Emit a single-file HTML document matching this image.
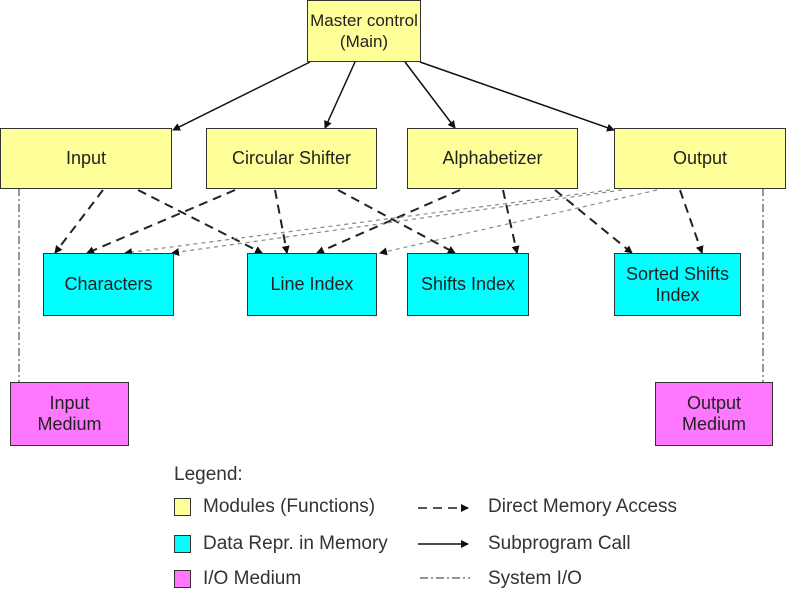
<!DOCTYPE html>
<html><head><style>
body{margin:0;width:786px;height:590px;background:#fff;overflow:hidden;position:relative;font-family:"Liberation Sans",sans-serif;}
.b{position:absolute;border:1px solid #333;box-sizing:border-box;display:flex;align-items:center;justify-content:center;text-align:center;font-size:18px;color:#222;line-height:21px;white-space:nowrap;}
.y{background:#ffff99;}.c{background:#00ffff;}.m{background:#ff77ff;}
.t{position:absolute;font-size:19px;color:#333;white-space:nowrap;}
</style></head><body>
<svg width="786" height="590" style="position:absolute;left:0;top:0">
<defs><marker id="a" markerWidth="8" markerHeight="8" refX="7" refY="4" orient="auto" markerUnits="userSpaceOnUse"><path d="M0,0 L8,4 L0,8 z" fill="#111"/></marker></defs>
<g stroke="#111" stroke-width="1.5" marker-end="url(#a)">
<line x1="310" y1="62" x2="173" y2="130"/><line x1="355" y1="62" x2="325" y2="128"/>
<line x1="405" y1="62" x2="455" y2="128"/><line x1="420" y1="62" x2="614" y2="130"/>
</g>
<g stroke="#222" stroke-width="2" stroke-dasharray="9,6" fill="none" marker-end="url(#a)">
<line x1="103" y1="190" x2="55" y2="253"/><line x1="138" y1="190" x2="262" y2="253"/>
<line x1="235" y1="190" x2="87" y2="253"/><line x1="275" y1="190" x2="287" y2="253"/><line x1="338" y1="190" x2="455" y2="253"/>
<line x1="460" y1="190" x2="317" y2="253"/><line x1="503" y1="190" x2="517" y2="253"/><line x1="555" y1="190" x2="632" y2="253"/>
<line x1="680" y1="190" x2="702" y2="253"/>
</g>
<g stroke="#888" stroke-width="1.2" stroke-dasharray="4,4" fill="none" marker-end="url(#a)">
<line x1="610" y1="190" x2="125" y2="253"/><line x1="622" y1="190" x2="172" y2="253"/><line x1="657" y1="190" x2="380" y2="253"/>
</g>
<g stroke="#555" stroke-width="1.2" stroke-dasharray="8,3,2,3" fill="none">
<line x1="19" y1="188" x2="19" y2="382"/><line x1="763" y1="188" x2="763" y2="382"/>
<line x1="420" y1="578" x2="470" y2="578"/>
</g>
<line x1="418" y1="508" x2="468" y2="508" stroke="#555" stroke-width="2" stroke-dasharray="9,6" marker-end="url(#a)"/>
<line x1="418" y1="544" x2="468" y2="544" stroke="#111" stroke-width="1.5" marker-end="url(#a)"/>
</svg>
<div class="b y" style="left:307px;top:0;width:114px;height:62px;font-size:17px">Master control<br>(Main)</div>
<div class="b y" style="left:0;top:128px;width:172px;height:61px">Input</div>
<div class="b y" style="left:206px;top:128px;width:171px;height:61px">Circular Shifter</div>
<div class="b y" style="left:407px;top:128px;width:171px;height:61px">Alphabetizer</div>
<div class="b y" style="left:614px;top:128px;width:172px;height:61px">Output</div>
<div class="b c" style="left:43px;top:253px;width:131px;height:63px">Characters</div>
<div class="b c" style="left:247px;top:253px;width:130px;height:63px">Line Index</div>
<div class="b c" style="left:407px;top:253px;width:122px;height:63px">Shifts Index</div>
<div class="b c" style="left:614px;top:253px;width:127px;height:63px">Sorted Shifts<br>Index</div>
<div class="b m" style="left:10px;top:382px;width:119px;height:64px">Input<br>Medium</div>
<div class="b m" style="left:655px;top:382px;width:118px;height:64px">Output<br>Medium</div>
<div class="t" style="left:174px;top:464px">Legend:</div>
<div class="b y" style="left:174px;top:498px;width:17px;height:18px"></div>
<div class="b c" style="left:174px;top:535px;width:17px;height:18px"></div>
<div class="b m" style="left:174px;top:570px;width:17px;height:18px"></div>
<div class="t" style="left:203px;top:496px">Modules (Functions)</div>
<div class="t" style="left:203px;top:533px">Data Repr. in Memory</div>
<div class="t" style="left:203px;top:568px">I/O Medium</div>
<div class="t" style="left:488px;top:496px">Direct Memory Access</div>
<div class="t" style="left:488px;top:533px">Subprogram Call</div>
<div class="t" style="left:488px;top:568px">System I/O</div>
</body></html>
